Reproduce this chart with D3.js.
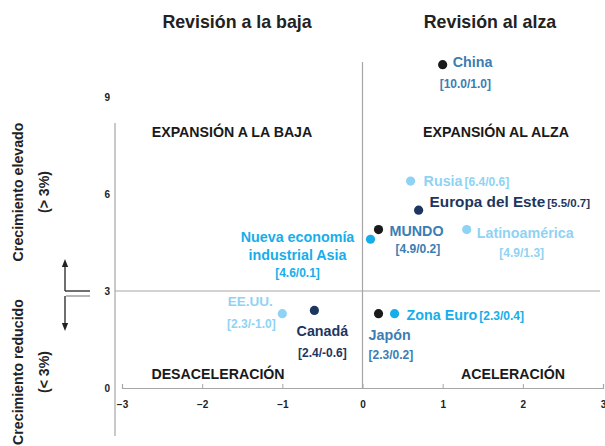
<!DOCTYPE html>
<html><head><meta charset="utf-8">
<script src="https://cdn.jsdelivr.net/npm/d3@7/dist/d3.min.js"></script>
<style>
body{margin:0;background:#fff;}
svg text{font-family:"Liberation Sans",Arial,Helvetica,sans-serif;font-weight:bold;}
</style></head>
<body>
<svg id="c" width="605" height="446"></svg>
<script>
// ---- data ----
const regions = ["China","Rusia","Europa del Este","MUNDO","Latinoamérica","Nueva economía industrial Asia","EE.UU.","Canadá","Japón","Zona Euro"];
const growth   = [10.0, 6.4, 5.5, 4.9, 4.9, 4.6, 2.3, 2.4, 2.3, 2.3];
const revision = [1.0, 0.6, 0.7, 0.2, 1.3, 0.1, -1.0, -0.6, 0.2, 0.4];
const tone     = ["ref","light","dark","ref","light","bright","light","dark","ref","bright"];
const xTicks = [-3,-2,-1,0,1,2,3];
const yTicks = [0,3,6,9];
const titles = ["Revisión a la baja","Revisión al alza"];
const quadrants = ["EXPANSIÓN A LA BAJA","EXPANSIÓN AL ALZA","DESACELERACIÓN","ACELERACIÓN"];

// ---- style ----
const dotColor = {ref:"#1a1a1a", light:"#8fd3f4", dark:"#1d365f", bright:"#16aeea"};
const txtColor = {ref:"#3c7db3", light:"#8fd3f4", dark:"#1d365f", bright:"#16aeea"};
// label layout relative to the dot
const layout = [
  {nx:10, ny:-3, anchor:"start", vx:-3, vy:19},                         // China
  {nx:13, ny:0, anchor:"start", inline:true},                           // Rusia
  {nx:11, ny:-9, anchor:"start", inline:true, fs:15.3, vfs:11.5},       // Europa del Este
  {nx:11, ny:1, anchor:"start", vx:17, vy:19},                          // MUNDO
  {nx:10, ny:3, anchor:"start", vx:55, vy:23, vanchor:"middle"},        // Latinoamérica
  {nx:-73, ny:-2, anchor:"middle", lines:["Nueva economía","industrial Asia"], vx:-73, vy:34}, // Asia
  {nx:-32, ny:-12, anchor:"middle", vx:-31, vy:10, fs:13.5},            // EE.UU.
  {nx:8, ny:21, anchor:"middle", vx:8, vy:42},                          // Canadá
  {nx:-10, ny:21, anchor:"start", vx:-10, vy:41},                       // Japón
  {nx:12, ny:1, anchor:"start", inline:true}                            // Zona Euro
];

const svg = d3.select("#c");
const x = d3.scaleLinear().domain([-3,3]).range([122,603]);
const y = d3.scaleLinear().domain([0,9]).range([388,97]);
const grey = "#a6a6a6";

// titles
svg.append("text").attr("x",237).attr("y",28).attr("text-anchor","middle").attr("font-size",17.8).attr("fill","#222").text(titles[0]);
svg.append("text").attr("x",490).attr("y",28).attr("text-anchor","middle").attr("font-size",17.8).attr("fill","#222").text(titles[1]);

// quadrant lines
svg.append("line").attr("x1",x(0)).attr("x2",x(0)).attr("y1",62).attr("y2",y(0)).attr("stroke",grey).attr("stroke-width",1.2);
svg.append("line").attr("x1",115).attr("x2",600).attr("y1",y(3)).attr("y2",y(3)).attr("stroke",grey).attr("stroke-width",1.2);

// y axis
svg.append("line").attr("x1",115).attr("x2",115).attr("y1",123).attr("y2",436).attr("stroke",grey).attr("stroke-width",1.2);
const ya = svg.append("g").attr("transform","translate(112,0)")
  .call(d3.axisLeft(y).tickValues(yTicks).tickSize(0).tickPadding(2).tickFormat(d3.format("d")));
ya.select(".domain").remove();
ya.selectAll("text").attr("font-size",10).attr("fill","#222").attr("font-family","Liberation Sans, Arial").attr("font-weight","bold");

// x axis
const xa = svg.append("g").attr("transform",`translate(0,${y(0)})`)
  .call(d3.axisBottom(x).tickValues(xTicks).tickSize(-4).tickPadding(13).tickFormat(d3.format("d")));
xa.select(".domain").attr("stroke",grey).attr("stroke-width",1.2);
xa.selectAll(".tick line").attr("stroke",grey);
xa.selectAll("text").attr("font-size",10).attr("fill","#222").attr("font-family","Liberation Sans, Arial").attr("font-weight","bold");

// quadrant labels
const qpos = [[232,137],[496,137],[218,379],[513,379]];
quadrants.forEach((q,i)=>svg.append("text").attr("x",qpos[i][0]).attr("y",qpos[i][1]).attr("text-anchor","middle").attr("font-size",14.2).attr("fill","#1a1a1a").text(q));

// left side labels
const lab = (tx,ty,t,fs)=>svg.append("text").attr("transform",`translate(${tx},${ty}) rotate(-90)`).attr("text-anchor","middle").attr("font-size",fs).attr("fill","#222").text(t);
lab(23,192,"Crecimiento elevado",14.2);
lab(49,192,"(> 3%)",14.2);
lab(23,372,"Crecimiento reducido",14.2);
lab(49,372,"(< 3%)",14.2);

// arrows
const defs = svg.append("defs");
defs.append("marker").attr("id","ah").attr("viewBox","0 0 10 10").attr("refX",5).attr("refY",5)
  .attr("markerWidth",6).attr("markerHeight",6).attr("orient","auto-start-reverse")
  .append("path").attr("d","M0,1 L10,5 L0,9 z").attr("fill","#222");
svg.append("line").attr("x1",65).attr("x2",65).attr("y1",y(3)).attr("y2",263).attr("stroke","#222").attr("stroke-width",1.3).attr("marker-end","url(#ah)");
svg.append("line").attr("x1",65).attr("x2",90).attr("y1",y(3)).attr("y2",y(3)).attr("stroke","#222").attr("stroke-width",1.3);
svg.append("line").attr("x1",66).attr("x2",90).attr("y1",y(3)+5).attr("y2",y(3)+5).attr("stroke",grey).attr("stroke-width",1.6);
svg.append("line").attr("x1",65).attr("x2",65).attr("y1",y(3)+5).attr("y2",327).attr("stroke","#222").attr("stroke-width",1.3).attr("marker-end","url(#ah)");

// points and labels
const fmt = v => (Math.round(v*10)/10).toFixed(1);
regions.forEach((r,i)=>{
  const cx = x(revision[i]), cy = y(growth[i]);
  const L = layout[i], col = txtColor[tone[i]], fs = L.fs || 14.3, vfs = L.vfs || 12;
  const val = `[${fmt(growth[i])}/${fmt(revision[i])}]`;
  svg.append("circle").attr("cx",cx).attr("cy",cy).attr("r",4.6).attr("fill",dotColor[tone[i]]);
  const t = svg.append("text").attr("x",cx+L.nx).attr("y",cy+L.ny).attr("dy","0.35em")
    .attr("text-anchor",L.anchor).attr("font-size",fs).attr("fill",col);
  if (L.lines) {
    L.lines.forEach((ln,k)=>t.append("tspan").attr("x",cx+L.nx).attr("dy",k===0?"0.35em":"1.25em").text(ln));
  } else {
    t.append("tspan").text(r);
  }
  if (L.inline) {
    t.append("tspan").attr("font-size",vfs).attr("dx",2).text(val);
  } else {
    svg.append("text").attr("x",cx+L.vx).attr("y",cy+L.vy).attr("dy","0.35em")
      .attr("text-anchor",L.vanchor || (L.anchor==="middle"?"middle":"start"))
      .attr("font-size",vfs).attr("fill",col).text(val);
  }
});
</script>
</body></html>
